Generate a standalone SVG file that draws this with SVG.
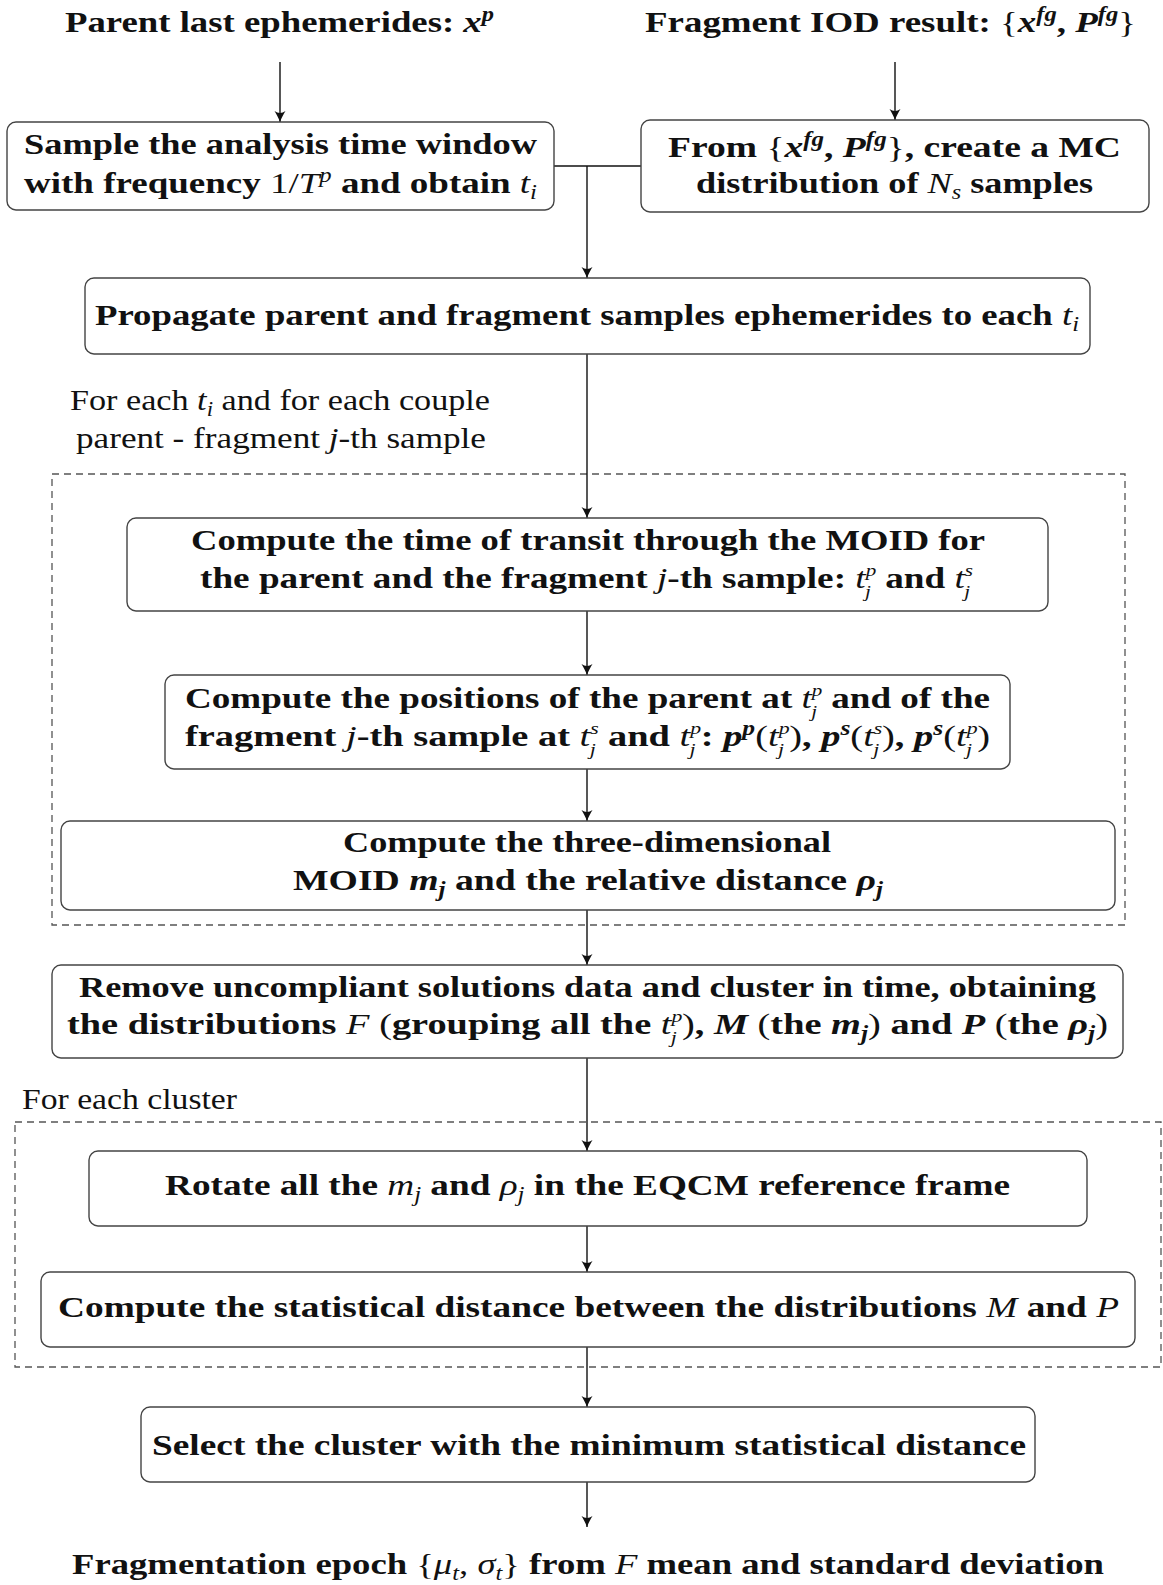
<svg xmlns="http://www.w3.org/2000/svg" width="1163" height="1585" viewBox="0 0 1163 1585">
<style>
text{font-family:"Liberation Serif","DejaVu Serif",serif;font-size:30px;fill:#111;text-anchor:start}
.b{font-weight:bold}
.r{font-weight:normal}
.mi{font-style:italic;font-weight:normal}
.mb{font-style:italic;font-weight:bold}
.s{font-size:20px}
.ss{font-size:17px}
.box{fill:#fff;stroke:#444;stroke-width:1.4}
.dash{fill:none;stroke:#555;stroke-width:1.3;stroke-dasharray:7 5}
.ln{fill:none;stroke:#111;stroke-width:1.4}
</style>
<defs>
<marker id="ah" viewBox="-12 -6 13 12" refX="0" refY="0" markerWidth="13" markerHeight="12" markerUnits="userSpaceOnUse" orient="auto">
<path d="M0,0 C-4,-1.5 -8,-3.5 -11,-5.5 C-8.5,-2 -8.5,2 -11,5.5 C-8,3.5 -4,1.5 0,0Z" fill="#111"/>
</marker>
</defs>

<rect class="dash" x="52" y="474" width="1073" height="451"/>
<rect class="dash" x="15" y="1122" width="1146" height="245"/>

<g id="connectors">
<line class="ln" x1="280" y1="62" x2="280" y2="122" marker-end="url(#ah)"/>
<line class="ln" x1="895" y1="62" x2="895" y2="120" marker-end="url(#ah)"/>
<line class="ln" x1="554" y1="166" x2="641" y2="166"/>
<line class="ln" x1="587" y1="166" x2="587" y2="278" marker-end="url(#ah)"/>
<line class="ln" x1="587" y1="354" x2="587" y2="518" marker-end="url(#ah)"/>
<line class="ln" x1="587" y1="611" x2="587" y2="675" marker-end="url(#ah)"/>
<line class="ln" x1="587" y1="769" x2="587" y2="821" marker-end="url(#ah)"/>
<line class="ln" x1="587" y1="910" x2="587" y2="965" marker-end="url(#ah)"/>
<line class="ln" x1="587" y1="1058" x2="587" y2="1151" marker-end="url(#ah)"/>
<line class="ln" x1="587" y1="1226" x2="587" y2="1272" marker-end="url(#ah)"/>
<line class="ln" x1="587" y1="1347" x2="587" y2="1407" marker-end="url(#ah)"/>
<line class="ln" x1="587" y1="1482" x2="587" y2="1527" marker-end="url(#ah)"/>
</g>

<g id="title-parent">
<text class="b" x="65" y="32" textLength="429" lengthAdjust="spacingAndGlyphs">Parent last ephemerides: <tspan class="mb">x</tspan><tspan class="mb s" dy="-11">p</tspan></text>
</g>
<g id="title-fragment">
<text class="b" x="645" y="32" textLength="491" lengthAdjust="spacingAndGlyphs">Fragment IOD result: <tspan class="r">{</tspan><tspan class="mb">x</tspan><tspan class="mb s" dy="-11">fg</tspan><tspan dy="11">, </tspan><tspan class="mb">P</tspan><tspan class="mb s" dy="-11">fg</tspan><tspan class="r" dy="11">}</tspan></text>
</g>

<g id="sample">
<rect class="box" x="7" y="122" width="547" height="88" rx="9"/>
<text class="b" x="24" y="154" textLength="513" lengthAdjust="spacingAndGlyphs">Sample the analysis time window</text>
<text class="b" x="24" y="193" textLength="513" lengthAdjust="spacingAndGlyphs">with frequency <tspan class="r">1/</tspan><tspan class="mi">T</tspan><tspan class="mi s" dy="-11">p</tspan><tspan dy="11"> and obtain </tspan><tspan class="mi">t</tspan><tspan class="mi s" dy="6">i</tspan></text>
</g>

<g id="mc">
<rect class="box" x="641" y="120" width="508" height="92" rx="9"/>
<text class="b" x="668" y="157" textLength="453" lengthAdjust="spacingAndGlyphs">From <tspan class="r">{</tspan><tspan class="mb">x</tspan><tspan class="mb s" dy="-11">fg</tspan><tspan dy="11">, </tspan><tspan class="mb">P</tspan><tspan class="mb s" dy="-11">fg</tspan><tspan class="r" dy="11">}</tspan>, create a MC</text>
<text class="b" x="696" y="193" textLength="397" lengthAdjust="spacingAndGlyphs">distribution of <tspan class="mi">N</tspan><tspan class="mi s" dy="6">s</tspan><tspan dy="-6"> samples</tspan></text>
</g>

<g id="propagate">
<rect class="box" x="85" y="278" width="1005" height="76" rx="9"/>
<text class="b" x="95" y="325" textLength="984" lengthAdjust="spacingAndGlyphs">Propagate parent and fragment samples ephemerides to each <tspan class="mi">t</tspan><tspan class="mi s" dy="6">i</tspan></text>
</g>

<g id="label-each">
<text class="r" x="70" y="410" textLength="420" lengthAdjust="spacingAndGlyphs">For each <tspan class="mi">t</tspan><tspan class="mi s" dy="6">i</tspan><tspan dy="-6"> and for each couple</tspan></text>
<text class="r" x="76" y="448" textLength="410" lengthAdjust="spacingAndGlyphs">parent - fragment <tspan class="mi">j</tspan>-th sample</text>
</g>

<g id="transit">
<rect class="box" x="127" y="518" width="921" height="93" rx="9"/>
<text class="b" x="191" y="550" textLength="794" lengthAdjust="spacingAndGlyphs">Compute the time of transit through the MOID for</text>
<text class="b" x="200" y="588" textLength="773" lengthAdjust="spacingAndGlyphs">the parent and the fragment <tspan class="mi">j</tspan>-th sample: <tspan class="mi">t</tspan><tspan class="mi ss" dy="-12">p</tspan><tspan class="mi ss" dx="-9" dy="21">j</tspan><tspan dx="4" dy="-9"> and </tspan><tspan class="mi">t</tspan><tspan class="mi ss" dy="-12">s</tspan><tspan class="mi ss" dx="-7" dy="21">j</tspan></text>
</g>

<g id="positions">
<rect class="box" x="165" y="675" width="845" height="94" rx="9"/>
<text class="b" x="185" y="708" textLength="805" lengthAdjust="spacingAndGlyphs">Compute the positions of the parent at <tspan class="mi">t</tspan><tspan class="mi ss" dy="-12">p</tspan><tspan class="mi ss" dx="-9" dy="21">j</tspan><tspan dx="4" dy="-9"> and of the</tspan></text>
<text class="b" x="185" y="746" textLength="805" lengthAdjust="spacingAndGlyphs">fragment <tspan class="mi">j</tspan>-th sample at <tspan class="mi">t</tspan><tspan class="mi ss" dy="-12">s</tspan><tspan class="mi ss" dx="-7" dy="21">j</tspan><tspan dx="2" dy="-9"> and </tspan><tspan class="mi">t</tspan><tspan class="mi ss" dy="-12">p</tspan><tspan class="mi ss" dx="-9" dy="21">j</tspan><tspan dx="4" dy="-9">: </tspan><tspan class="mb">p</tspan><tspan class="mb s" dy="-11">p</tspan><tspan class="r" dy="11">(</tspan><tspan class="mi">t</tspan><tspan class="mi ss" dy="-12">p</tspan><tspan class="mi ss" dx="-9" dy="21">j</tspan><tspan class="r" dx="4" dy="-9">)</tspan>, <tspan class="mb">p</tspan><tspan class="mb s" dy="-11">s</tspan><tspan class="r" dy="11">(</tspan><tspan class="mi">t</tspan><tspan class="mi ss" dy="-12">s</tspan><tspan class="mi ss" dx="-7" dy="21">j</tspan><tspan class="r" dx="2" dy="-9">)</tspan>, <tspan class="mb">p</tspan><tspan class="mb s" dy="-11">s</tspan><tspan class="r" dy="11">(</tspan><tspan class="mi">t</tspan><tspan class="mi ss" dy="-12">p</tspan><tspan class="mi ss" dx="-9" dy="21">j</tspan><tspan class="r" dx="4" dy="-9">)</tspan></text>
</g>

<g id="moid">
<rect class="box" x="61" y="821" width="1054" height="89" rx="9"/>
<text class="b" x="343" y="852" textLength="488" lengthAdjust="spacingAndGlyphs">Compute the three-dimensional</text>
<text class="b" x="293" y="890" textLength="590" lengthAdjust="spacingAndGlyphs">MOID <tspan class="mb">m</tspan><tspan class="mb s" dy="6">j</tspan><tspan dy="-6"> and the relative distance </tspan><tspan class="mb">ρ</tspan><tspan class="mb s" dy="6">j</tspan></text>
</g>

<g id="remove">
<rect class="box" x="52" y="965" width="1071" height="93" rx="9"/>
<text class="b" x="79" y="997" textLength="1017" lengthAdjust="spacingAndGlyphs">Remove uncompliant solutions data and cluster in time, obtaining</text>
<text class="b" x="67" y="1034" textLength="1041" lengthAdjust="spacingAndGlyphs">the distributions <tspan class="mi">F</tspan><tspan class="r"> (</tspan>grouping all the <tspan class="mi">t</tspan><tspan class="mi ss" dy="-12">p</tspan><tspan class="mi ss" dx="-9" dy="21">j</tspan><tspan class="r" dx="4" dy="-9">)</tspan>, <tspan class="mb">M</tspan><tspan class="r"> (</tspan>the <tspan class="mb">m</tspan><tspan class="mb s" dy="6">j</tspan><tspan class="r" dy="-6">)</tspan> and <tspan class="mb">P</tspan><tspan class="r"> (</tspan>the <tspan class="mb">ρ</tspan><tspan class="mb s" dy="6">j</tspan><tspan class="r" dy="-6">)</tspan></text>
</g>

<g id="label-cluster">
<text class="r" x="22" y="1109" textLength="215" lengthAdjust="spacingAndGlyphs">For each cluster</text>
</g>

<g id="rotate">
<rect class="box" x="89" y="1151" width="998" height="75" rx="9"/>
<text class="b" x="165" y="1195" textLength="845" lengthAdjust="spacingAndGlyphs">Rotate all the <tspan class="mi">m</tspan><tspan class="mi s" dy="6">j</tspan><tspan dy="-6"> and </tspan><tspan class="mi">ρ</tspan><tspan class="mi s" dy="6">j</tspan><tspan dy="-6"> in the EQCM reference frame</tspan></text>
</g>

<g id="statdist">
<rect class="box" x="41" y="1272" width="1094" height="75" rx="9"/>
<text class="b" x="58" y="1317" textLength="1061" lengthAdjust="spacingAndGlyphs">Compute the statistical distance between the distributions <tspan class="mi">M</tspan> and <tspan class="mi">P</tspan></text>
</g>

<g id="select">
<rect class="box" x="141" y="1407" width="894" height="75" rx="9"/>
<text class="b" x="152" y="1455" textLength="874" lengthAdjust="spacingAndGlyphs">Select the cluster with the minimum statistical distance</text>
</g>

<g id="epoch">
<text class="b" x="72" y="1574" textLength="1032" lengthAdjust="spacingAndGlyphs">Fragmentation epoch <tspan class="r">{</tspan><tspan class="mi">μ</tspan><tspan class="mi s" dy="6">t</tspan><tspan class="r" dy="-6">, </tspan><tspan class="mi">σ</tspan><tspan class="mi s" dy="6">t</tspan><tspan class="r" dy="-6">}</tspan> from <tspan class="mi">F</tspan> mean and standard deviation</text>
</g>
</svg>
